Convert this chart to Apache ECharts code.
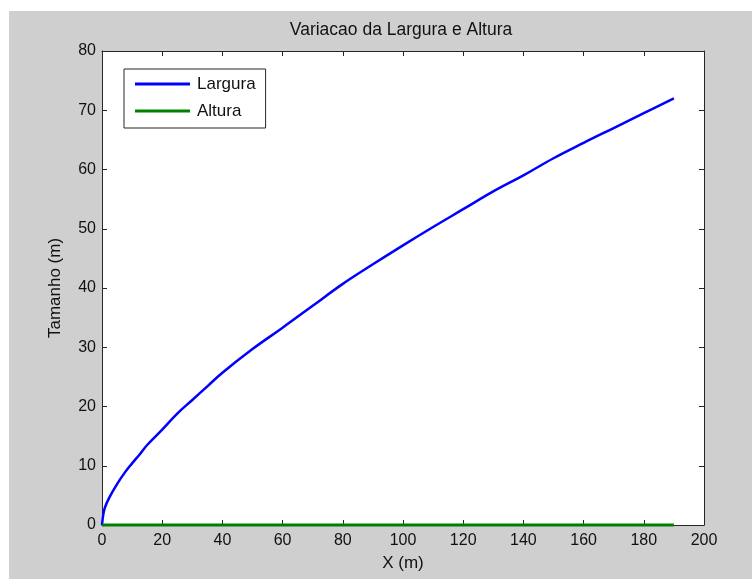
<!DOCTYPE html>
<html>
<head>
<meta charset="utf-8">
<script src="https://cdn.jsdelivr.net/npm/echarts@6/dist/echarts.min.js"></script>
<style>
  html, body { margin: 0; padding: 0; background: #ffffff; }
  #frame { position: absolute; left: 9px; top: 11px; width: 743px; height: 568px; background: #cfcfcf; }
  #chart { position: absolute; left: 0; top: 0; width: 752px; height: 579px; }
</style>
</head>
<body>
<div id="frame"></div>
<div id="chart"></div>
<script>
// Width (Largura) along X
const larguraX = [0, 0.5, 1, 2.5, 5, 7.5, 10, 12.5, 15, 20, 25, 30, 35, 40, 50, 60, 70, 80, 90, 100,
                  110, 120, 130, 140, 150, 160, 170, 180, 190];
const larguraY = [0, 2.0, 3.0, 4.7, 6.9, 8.8, 10.4, 11.9, 13.5, 16.1, 18.8, 21.1, 23.4, 25.7, 29.7, 33.3, 37.0, 40.7, 44.0, 47.2,
                  50.3, 53.3, 56.3, 59.0, 61.9, 64.5, 67.0, 69.5, 72.0];
// Height (Altura) along X
const alturaX = [0, 190];
const alturaY = [0, 0];

const xTicks = { min: 0, max: 200, interval: 20 };
const yTicks = { min: 0, max: 80, interval: 10 };

const titleText = 'Variacao da Largura e Altura';
const xName = 'X (m)';
const yName = 'Tamanho (m)';

const FONT = '"Liberation Sans", Arial, sans-serif';
const INK = '#111111';
const BOX = '#262626';

const pairs = (xs, ys) => xs.map((x, i) => [x, ys[i]]);

const chart = echarts.init(document.getElementById('chart'), null, { renderer: 'canvas' });

const axisCommon = {
  axisLine: { show: true, onZero: false, lineStyle: { color: BOX, width: 1 } },
  axisTick: { show: true, inside: true, length: 5, lineStyle: { color: BOX, width: 1 } },
  splitLine: { show: false }
};

chart.setOption({
  backgroundColor: 'transparent',
  animation: false,
  graphic: [{
    type: 'text',
    x: 401, y: 21,
    style: { text: titleText, font: '17.5px ' + FONT, fill: INK, textAlign: 'center' }
  }],
  grid: {
    left: 102, top: 51, width: 602, height: 474,
    show: true, backgroundColor: '#ffffff', borderWidth: 0
  },
  legend: {
    orient: 'vertical',
    left: 124, top: 69,
    padding: [5, 10, 7, 11],
    itemGap: 7,
    itemWidth: 55, itemHeight: 3,
    icon: 'rect',
    backgroundColor: '#ffffff',
    borderColor: BOX, borderWidth: 1,
    textStyle: { fontFamily: FONT, fontSize: 17, color: INK, lineHeight: 20, padding: [0, 0, 0, 2] },
    data: ['Largura', 'Altura']
  },
  xAxis: [
    Object.assign({
      type: 'value', position: 'bottom',
      min: xTicks.min, max: xTicks.max, interval: xTicks.interval,
      name: xName, nameLocation: 'middle', nameGap: 30,
      nameTextStyle: { fontFamily: FONT, fontSize: 17, color: INK },
      axisLabel: { fontFamily: FONT, fontSize: 16, color: INK, margin: 8 }
    }, axisCommon),
    Object.assign({
      type: 'value', position: 'top',
      min: xTicks.min, max: xTicks.max, interval: xTicks.interval,
      axisLabel: { show: false }
    }, axisCommon)
  ],
  yAxis: [
    Object.assign({
      type: 'value', position: 'left',
      min: yTicks.min, max: yTicks.max, interval: yTicks.interval,
      name: yName, nameLocation: 'middle', nameGap: 38,
      nameTextStyle: { fontFamily: FONT, fontSize: 17, color: INK },
      axisLabel: { fontFamily: FONT, fontSize: 16, color: INK, margin: 6 }
    }, axisCommon),
    Object.assign({
      type: 'value', position: 'right',
      min: yTicks.min, max: yTicks.max, interval: yTicks.interval,
      axisLabel: { show: false }
    }, axisCommon)
  ],
  series: [
    {
      name: 'Largura', type: 'line', xAxisIndex: 0, yAxisIndex: 0,
      data: pairs(larguraX, larguraY),
      showSymbol: false, symbol: 'none', clip: false,
      smooth: 0.4,
      color: '#0000ff',
      lineStyle: { color: '#0000ff', width: 2.5 }
    },
    {
      name: 'Altura', type: 'line', xAxisIndex: 0, yAxisIndex: 0,
      data: pairs(alturaX, alturaY),
      showSymbol: false, symbol: 'none', clip: false,
      color: '#008000',
      lineStyle: { color: '#008000', width: 3 }
    }
  ]
});
</script>
</body>
</html>
